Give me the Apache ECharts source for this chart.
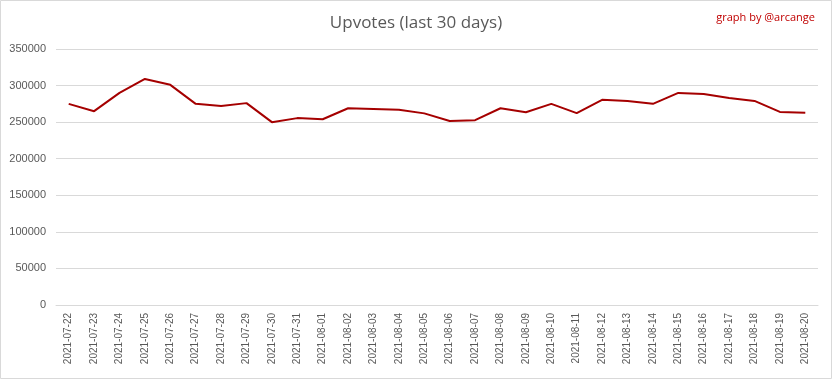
<!DOCTYPE html>
<html><head><meta charset="utf-8">
<script src="https://cdn.jsdelivr.net/npm/echarts@6/dist/echarts.min.js"></script>
<style>html,body{margin:0;padding:0;background:#fff}#c{width:832px;height:379px}</style>
</head><body><div id="c"></div>
<script>
const categories = ["2021-07-22","2021-07-23","2021-07-24","2021-07-25","2021-07-26","2021-07-27","2021-07-28","2021-07-29","2021-07-30","2021-07-31","2021-08-01","2021-08-02","2021-08-03","2021-08-04","2021-08-05","2021-08-06","2021-08-07","2021-08-08","2021-08-09","2021-08-10","2021-08-11","2021-08-12","2021-08-13","2021-08-14","2021-08-15","2021-08-16","2021-08-17","2021-08-18","2021-08-19","2021-08-20"];
const upvotes = [275000,265000,290000,309000,301000,275000,272000,276000,250000,255500,254000,269000,268000,267000,262000,251500,252700,269000,263600,275000,262300,280500,279000,275000,290000,288600,283000,279000,264000,262700];
const chart = echarts.init(document.getElementById('c'));
chart.setOption({
  animation:false,
  graphic:[{type:'rect',shape:{x:0.5,y:0.5,width:831,height:378},style:{fill:'none',stroke:'#d9d9d9',lineWidth:1}}],
  title:[{text:'Upvotes (last 30 days)',left:'center',top:10,textStyle:{fontFamily:'Open Sans',fontSize:17,fontWeight:'normal',color:'#595959'}},
         {text:'graph by @arcange',right:12,top:7,textStyle:{fontFamily:'Open Sans',fontSize:11,fontWeight:'normal',color:'#c00000'}}],
  grid:{left:56,right:14,top:49,bottom:74},
  xAxis:{type:'category',data:categories,boundaryGap:true,
    axisLine:{lineStyle:{color:'#d9d9d9'}},axisTick:{show:false},
    axisLabel:{rotate:90,interval:0,color:'#595959',fontFamily:'Liberation Sans',fontSize:10,margin:8}},
  yAxis:{type:'value',min:0,max:350000,interval:50000,
    axisLine:{show:false},axisTick:{show:false},
    splitLine:{lineStyle:{color:'#d9d9d9'}},
    axisLabel:{color:'#595959',fontFamily:'Liberation Sans',fontSize:11,margin:10,formatter:function(v){return String(v);}}},
  series:[{type:'line',data:upvotes,symbol:'none',lineStyle:{color:'#a50000',width:2}}]
});
</script></body></html>
